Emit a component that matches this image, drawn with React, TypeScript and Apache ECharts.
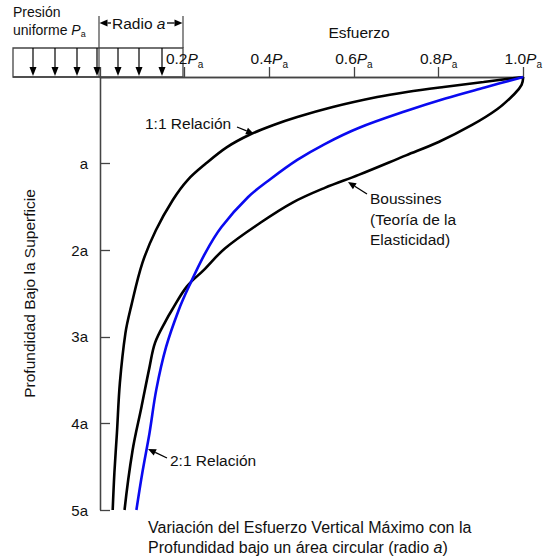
import React, { useEffect, useRef } from "react";
import * as echarts from "echarts";

// Stress (fraction of Pa) vs depth (multiples of a)
const oneToOneStress = [1.0, 0.906, 0.812, 0.725, 0.655, 0.55, 0.466, 0.41, 0.352, 0.3, 0.25, 0.207, 0.172, 0.132, 0.1, 0.073, 0.06, 0.047, 0.04, 0.034, 0.03];
const oneToOneDepth = [0, 0.058, 0.115, 0.173, 0.231, 0.346, 0.462, 0.554, 0.67, 0.81, 1.0, 1.19, 1.42, 1.77, 2.15, 2.66, 2.96, 3.53, 4.11, 4.57, 5.0];

const twoToOneStress = [1.0, 0.909, 0.816, 0.723, 0.611, 0.531, 0.466, 0.403, 0.35, 0.287, 0.249, 0.21, 0.186, 0.156, 0.133, 0.117, 0.1, 0.086];
const twoToOneDepth = [0, 0.121, 0.248, 0.393, 0.589, 0.774, 0.958, 1.178, 1.386, 1.732, 2.03, 2.42, 2.69, 3.12, 3.61, 4.11, 4.57, 5.0];

const boussStress = [1.0, 0.996, 0.979, 0.939, 0.879, 0.8, 0.723, 0.611, 0.531, 0.455, 0.378, 0.295, 0.245, 0.205, 0.17, 0.156, 0.13, 0.117, 0.098, 0.077, 0.058];
const boussDepth = [0, 0.09, 0.196, 0.37, 0.554, 0.751, 0.905, 1.13, 1.28, 1.45, 1.686, 1.98, 2.23, 2.42, 2.69, 2.81, 3.07, 3.35, 3.81, 4.31, 5.0];

const depthLabels = ["", "a", "2a", "3a", "4a", "5a"];
const stressMax = 1.0;
const stressInterval = 0.2;

const FONT = "'Liberation Sans', Arial, sans-serif";
const TXT = "#111";
const AX = "#444";
const FS = 15.5;

function pairs(xs: number[], ys: number[]) {
  return xs.map((x, i) => [x, ys[i]]);
}

function arrow(x1: number, y1: number, x2: number, y2: number) {
  const dx = x2 - x1;
  const dy = y2 - y1;
  const len = Math.sqrt(dx * dx + dy * dy);
  const ux = dx / len;
  const uy = dy / len;
  const hl = 8;
  const hw = 3.5;
  const bx = x2 - ux * hl;
  const by = y2 - uy * hl;
  return [
    { type: "line", shape: { x1, y1, x2: bx, y2: by }, style: { stroke: "#000", lineWidth: 1.3 } },
    {
      type: "polygon",
      shape: { points: [[x2, y2], [bx - uy * hw, by + ux * hw], [bx + uy * hw, by - ux * hw]] },
      style: { fill: "#000" },
    },
  ];
}

function label(text: string, x: number, y: number, size = FS, extra: any = {}) {
  return {
    type: "text",
    x,
    y,
    style: { text, fontSize: size, fontFamily: FONT, fill: TXT, verticalAlign: "middle", ...extra },
  };
}

export default function App() {
  const ref = useRef<HTMLDivElement>(null);
  useEffect(() => {
    document.body.style.margin = "0";
    if (!ref.current) return;
    const chart = echarts.init(ref.current, null, { renderer: "svg" });

    const arrowXs = [33, 55, 77, 97, 118, 139, 162];
    const pressureArrows: any[] = [];
    arrowXs.forEach((x) => {
      pressureArrows.push({ type: "line", shape: { x1: x, y1: 48, x2: x, y2: 69 }, style: { stroke: "#000", lineWidth: 1.2 } });
      pressureArrows.push({ type: "polygon", shape: { points: [[x - 3.5, 67], [x + 3.5, 67], [x, 76]] }, style: { fill: "#000" } });
    });

    const graphic: any[] = [
      { type: "rect", shape: { x: 13, y: 48, width: 170, height: 29 }, style: { fill: "none", stroke: AX, lineWidth: 1.3 } },
      { type: "line", shape: { x1: 13, y1: 77, x2: 100, y2: 77 }, style: { stroke: AX, lineWidth: 1.3 } },
      { type: "line", shape: { x1: 99, y1: 16, x2: 99, y2: 77 }, style: { stroke: AX, lineWidth: 1.2 } },
      { type: "line", shape: { x1: 183, y1: 16, x2: 183, y2: 48 }, style: { stroke: AX, lineWidth: 1.2 } },
      ...arrow(111, 23, 99.5, 23),
      ...arrow(167, 23, 182.5, 23),
      ...pressureArrows,
      label("Radio {i|a}", 112, 23, FS, { rich: { i: { fontStyle: "italic", fontSize: FS, fontFamily: FONT } } }),
      label("Presión", 13, 12, 14),
      label("uniforme {i|P}{s|a}", 13, 30, 14, {
        rich: {
          i: { fontStyle: "italic", fontSize: 14, fontFamily: FONT, lineHeight: 16 },
          s: { fontSize: 9, fontFamily: FONT, lineHeight: 16, verticalAlign: "bottom", padding: [6, 0, 0, 0] },
        },
      }),
      label("Esfuerzo", 359, 32, FS, { align: "center" }),
      label("1:1 Relación", 145, 123),
      ...arrow(237, 127, 254, 134),
      label("Boussines", 370, 198),
      label("(Teoría de la", 370, 219),
      label("Elasticidad)", 370, 239),
      ...arrow(367, 194, 348, 182),
      label("2:1 Relación", 170, 460),
      ...arrow(167, 458, 148, 449),
      label("Variación del Esfuerzo Vertical Máximo con la", 148, 527, 16),
      label("Profundidad bajo un área circular (radio {i|a})", 148, 547, 16, {
        rich: { i: { fontStyle: "italic", fontSize: 16, fontFamily: FONT } },
      }),
    ];

    const lineCommon = {
      type: "line",
      xAxisIndex: 0,
      yAxisIndex: 0,
      smooth: 0.35,
      showSymbol: false,
    };

    const option: any = {
      animation: false,
      grid: { left: 100, top: 77, right: 16, bottom: 50, containLabel: false },
      xAxis: [
        {
          type: "value",
          position: "top",
          min: 0,
          max: stressMax,
          interval: stressInterval,
          axisLine: { show: true, lineStyle: { color: AX, width: 1.3 } },
          axisTick: { show: false },
          splitLine: { show: false },
          axisLabel: {
            margin: 11,
            color: TXT,
            fontFamily: FONT,
            fontSize: FS,
            formatter: (v: number) => (v === 0 ? "" : `{n|${v.toFixed(1)}}{p|P}{s|a}`),
            rich: {
              n: { fontSize: FS, fontFamily: FONT, color: TXT, lineHeight: 18, verticalAlign: "bottom" },
              p: { fontSize: FS, fontFamily: FONT, fontStyle: "italic", color: TXT, lineHeight: 18, verticalAlign: "bottom" },
              s: { fontSize: 10, fontFamily: FONT, color: TXT, lineHeight: 18, verticalAlign: "bottom", padding: [0, 0, -3, 0] },
            },
          },
        },
        {
          type: "value",
          position: "bottom",
          min: 0,
          max: stressMax,
          interval: stressInterval,
          axisLine: { show: true, lineStyle: { color: AX, width: 1.3 } },
          axisTick: { show: true, inside: true, length: 10, lineStyle: { color: AX, width: 1.3 } },
          splitLine: { show: false },
          axisLabel: { show: false },
        },
      ],
      yAxis: [
        {
          type: "value",
          inverse: true,
          position: "left",
          min: 0,
          max: 5,
          interval: 1,
          name: "Profundidad Bajo la Superficie",
          nameLocation: "middle",
          nameGap: 63,
          nameRotate: 90,
          nameTextStyle: { fontSize: FS, fontFamily: FONT, color: TXT },
          axisLine: { show: true, lineStyle: { color: AX, width: 1.3 } },
          axisTick: { show: true, inside: true, length: 10, lineStyle: { color: AX, width: 1.3 } },
          splitLine: { show: false },
          axisLabel: {
            margin: 12,
            color: TXT,
            fontFamily: FONT,
            fontSize: 15,
            formatter: (v: number) => depthLabels[Math.round(v)] ?? "",
          },
        },
        {
          type: "value",
          inverse: true,
          position: "right",
          min: 0,
          max: 5,
          interval: 1,
          axisLine: { show: true, lineStyle: { color: AX, width: 1.3 } },
          axisTick: { show: false },
          splitLine: { show: false },
          axisLabel: { show: false },
        },
      ],
      series: [
        { ...lineCommon, name: "1:1 Relación", data: pairs(oneToOneStress, oneToOneDepth), lineStyle: { color: "#000", width: 2.6 } },
        { ...lineCommon, name: "Boussines", data: pairs(boussStress, boussDepth), lineStyle: { color: "#000", width: 2.6 } },
        { ...lineCommon, name: "2:1 Relación", data: pairs(twoToOneStress, twoToOneDepth), lineStyle: { color: "#0a0af0", width: 2.6 } },
      ],
      graphic,
    };
    chart.setOption(option);
    return () => chart.dispose();
  }, []);
  return <div ref={ref} style={{ width: 545, height: 560 }} />;
}
